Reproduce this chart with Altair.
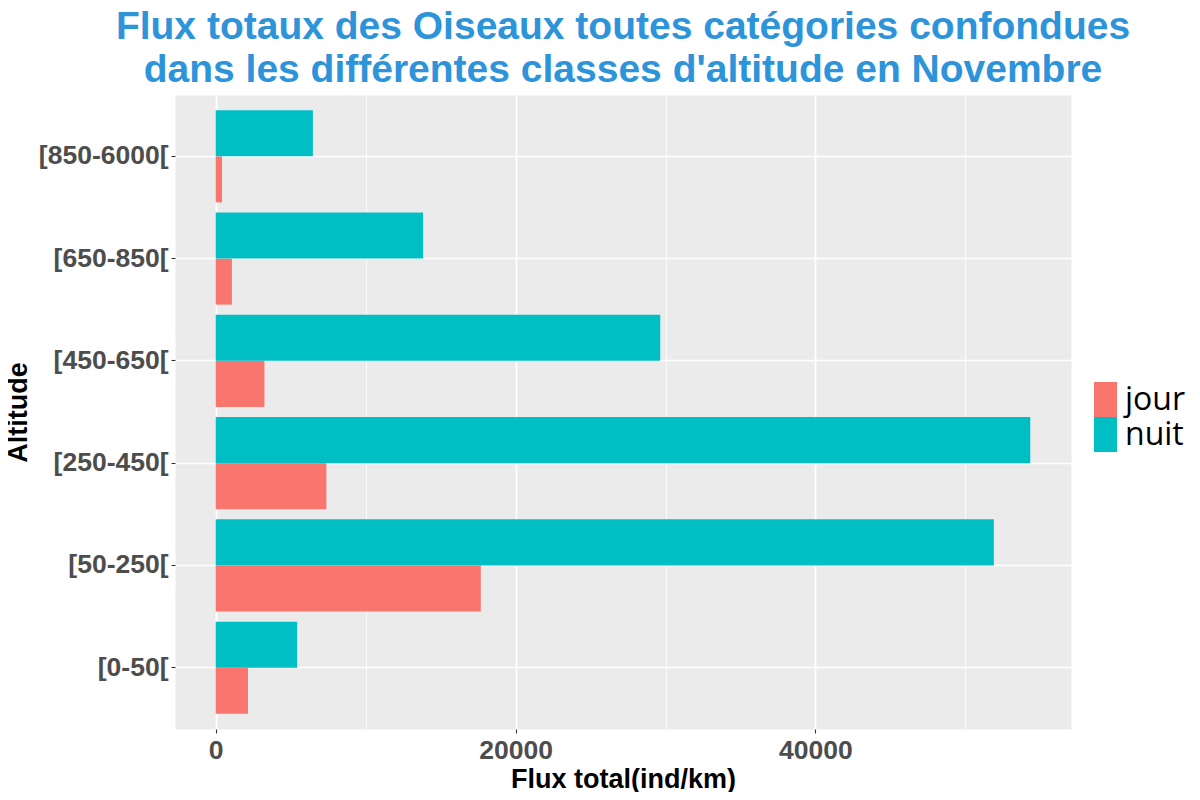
import altair as alt
import pandas as pd

# ---- data ----
altitudes = ["[0-50[", "[50-250[", "[250-450[", "[450-650[", "[650-850[", "[850-6000["]
periodes = ["jour", "nuit"]
flux_jour = [2150, 17680, 7380, 3250, 1080, 420]
flux_nuit = [5430, 51900, 54330, 29650, 13830, 6480]
x_ticks = [0, 10000, 20000, 30000, 40000, 50000]
x_domain = [-2716, 57046]
couleurs = ["#F8766D", "#00BFC4"]
titre = ["Flux totaux des Oiseaux toutes catégories confondues\u00a0",
         "\u00a0dans les différentes classes d'altitude en Novembre"]

rows = []
for a, j, n in zip(altitudes, flux_jour, flux_nuit):
    rows.append({"Altitude": a, "Periode": "jour", "Flux": j})
    rows.append({"Altitude": a, "Periode": "nuit", "Flux": n})
df = pd.DataFrame(rows)

FONT = "Liberation Sans"
major = "datum.value % 20000 === 0"

bars = alt.Chart(df).mark_bar().encode(
    x=alt.X(
        "Flux:Q",
        scale=alt.Scale(domain=x_domain, nice=False, zero=False),
        axis=alt.Axis(
            values=x_ticks,
            format="d",
            labelExpr=f"{major} ? datum.label : ''",
            title="Flux total(ind/km)",
            titleFont=FONT, titleFontSize=27, titleFontWeight="bold", titleColor="black",
            titleX=448, titleY=58, titleBaseline="alphabetic", titleAlign="center",
            labelFont=FONT, labelFontSize=26.5, labelFontWeight="bold", labelColor="#4D4D4D",
            labelPadding=4, tickSize=4, tickColor="#333333", tickWidth=1.1,
            tickOpacity={"condition": {"test": major, "value": 1}, "value": 0},
            domain=False, grid=True, gridColor="white",
            gridWidth={"condition": {"test": major, "value": 1.7}, "value": 0.85},
        ),
    ),
    y=alt.Y(
        "Altitude:N",
        sort=altitudes[::-1],
        scale=alt.Scale(paddingInner=0.1, paddingOuter=0.15),
        axis=alt.Axis(
            title="Altitude",
            titleFont=FONT, titleFontSize=27, titleFontWeight="bold", titleColor="black",
            titleAngle=270, titleX=-149, titleY=317, titleAlign="center", titleBaseline="alphabetic",
            labelFont=FONT, labelFontSize=26.5, labelFontWeight="bold", labelColor="#4D4D4D",
            labelPadding=3, tickSize=4, tickColor="#333333", tickWidth=1.1,
            domain=False, grid=True, gridColor="white", gridWidth=1.7, bandPosition=0.5,
        ),
    ),
    yOffset=alt.YOffset("Periode:N", sort=["nuit", "jour"]),
    color=alt.Color(
        "Periode:N",
        scale=alt.Scale(domain=periodes, range=couleurs),
        legend=alt.Legend(
            title=None, orient="none", legendX=913, legendY=287,
            symbolType="M-0.657,-1H0.657V1H-0.657Z", symbolSize=1225,
            symbolStrokeWidth=0, symbolOpacity=1,
            labelFont="Open Sans", labelFontSize=32, labelColor="black",
            labelOffset=2, rowPadding=0, padding=0,
        ),
    ),
)

chart = bars.properties(
    width=896,
    height=634,
    autosize=alt.AutoSizeParams(type="none"),
    padding={"left": 167, "top": 87, "right": 121, "bottom": 63},
    background="white",
    title=alt.Title(
        titre, font=FONT, fontSize=39, fontWeight="bold", color="#2D94DA",
        anchor="middle", frame="group", lineHeight=43, offset=5,
    ),
).configure_view(fill="#EBEBEB", stroke="transparent")

chart.save("out.html", embed_options={"renderer": "svg", "actions": False})
